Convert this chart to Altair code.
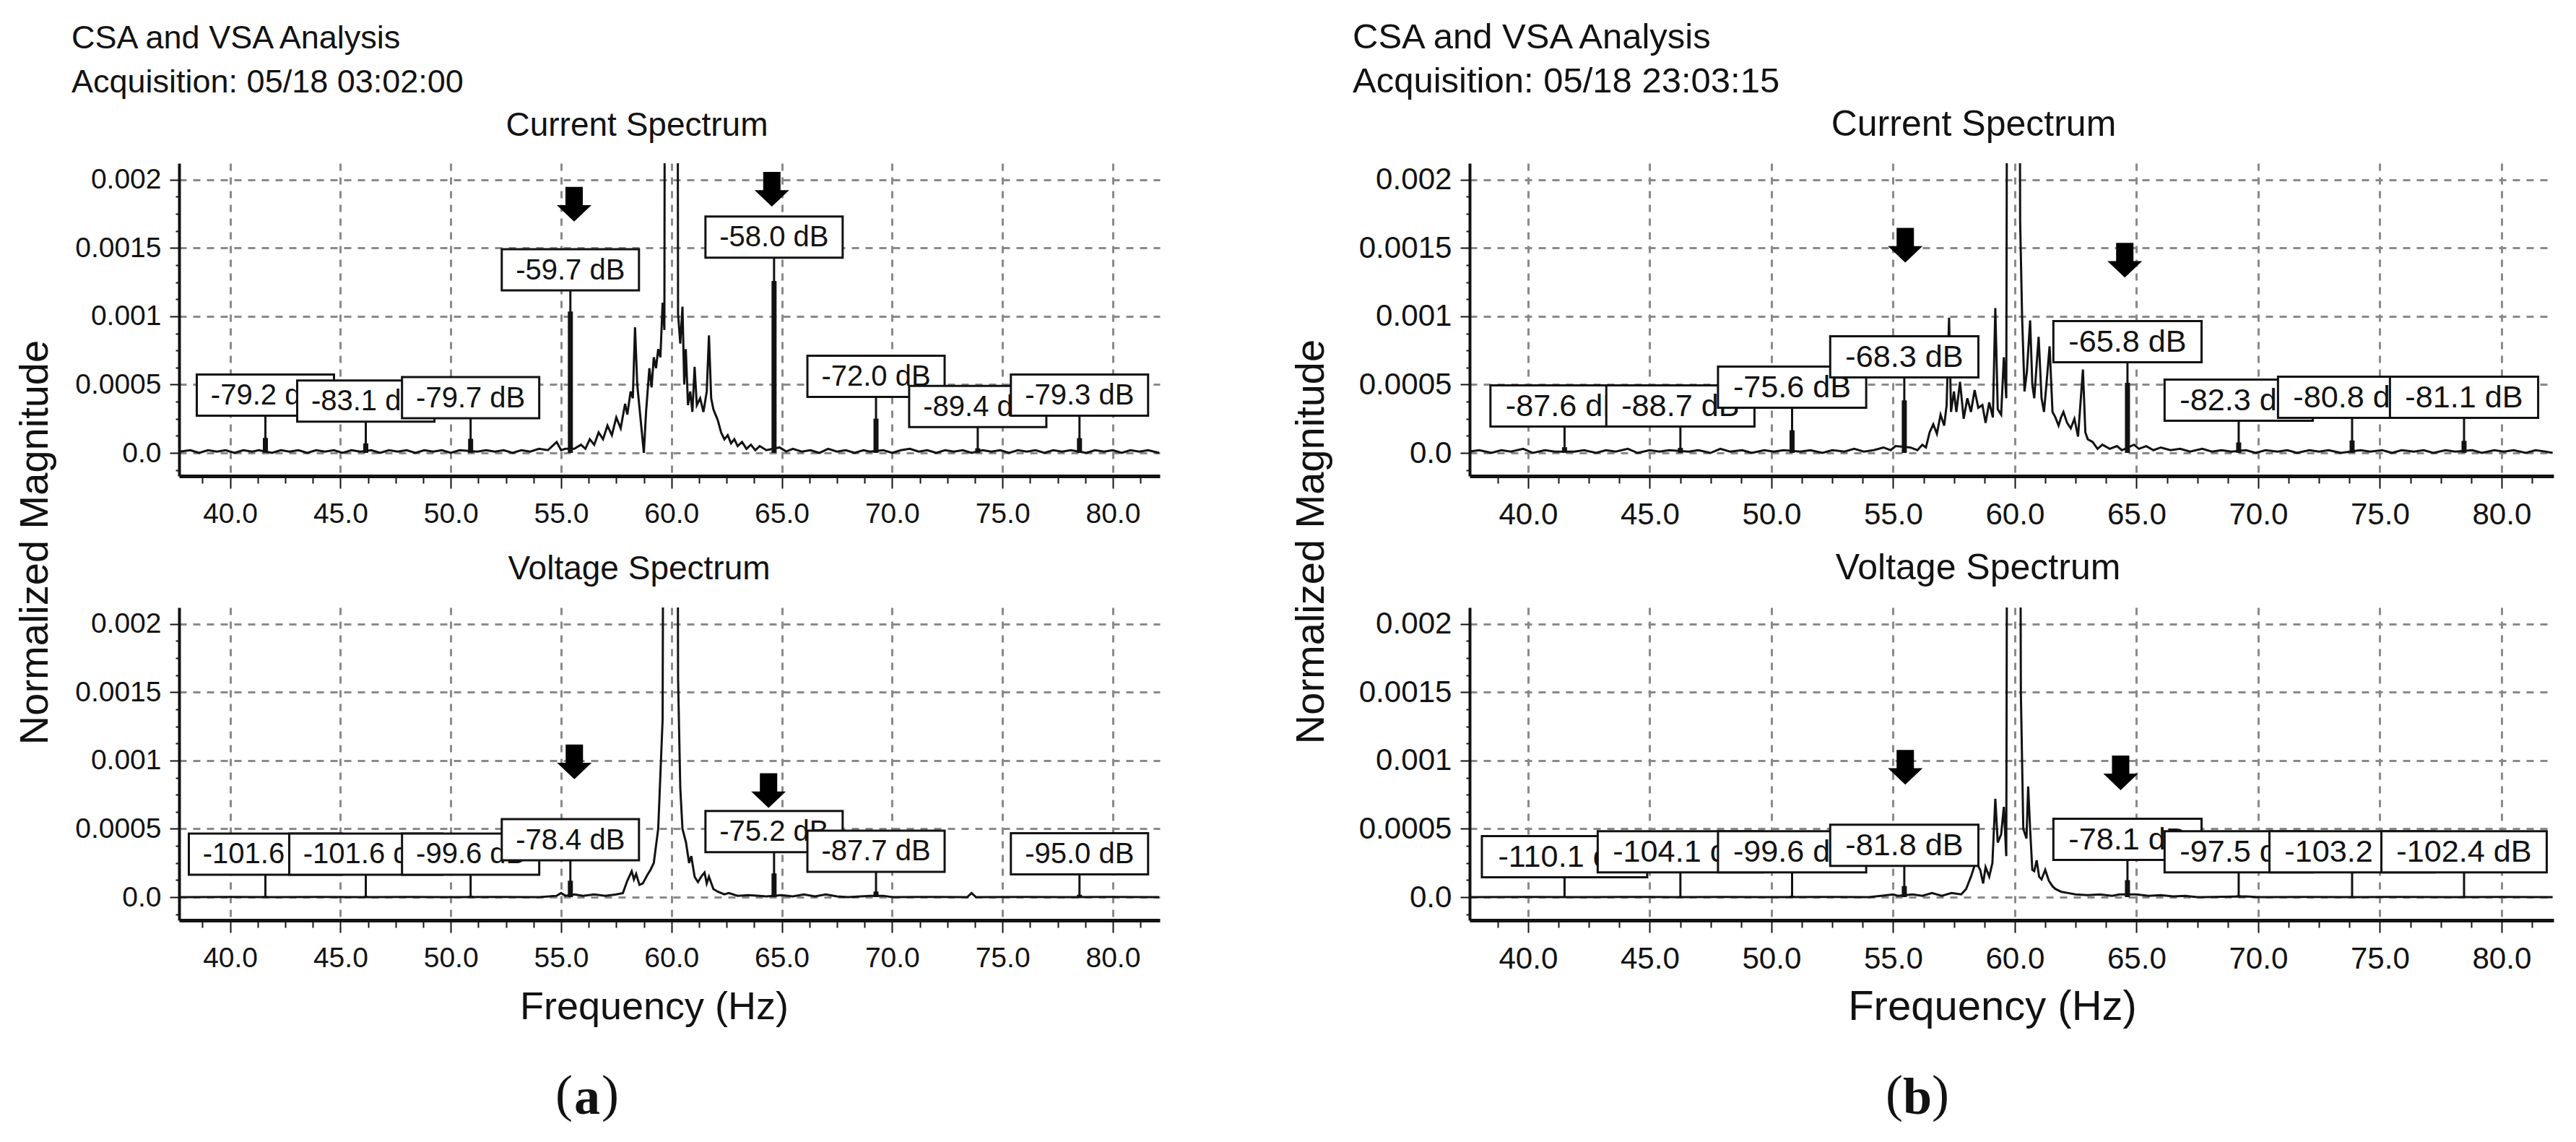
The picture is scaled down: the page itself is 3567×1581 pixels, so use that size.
import altair as alt
import pandas as pd

FONT = "Liberation Sans"
SERIF = "Liberation Serif"
INK = "#121212"
GRID = "#8a8a8a"

# ---------------- text ----------------
title_line1 = "CSA and VSA Analysis"
acq_a = "Acquisition: 05/18 03:02:00"
acq_b = "Acquisition: 05/18 23:03:15"
sub_current = "Current Spectrum"
sub_voltage = "Voltage Spectrum"
x_title = "Frequency (Hz)"
y_title = "Normalized Magnitude"
tag_a = "a"
tag_b = "b"

# ---------------- axes ----------------
x_ticks = [38.75, 40.0, 41.25, 42.5, 43.75, 45.0, 46.25, 47.5, 48.75, 50.0, 51.25, 52.5,
           53.75, 55.0, 56.25, 57.5, 58.75, 60.0, 61.25, 62.5, 63.75, 65.0, 66.25, 67.5,
           68.75, 70.0, 71.25, 72.5, 73.75, 75.0, 76.25, 77.5, 78.75, 80.0, 81.25]
x_major = [40.0, 45.0, 50.0, 55.0, 60.0, 65.0, 70.0, 75.0, 80.0]
x_major_labels = ["40.0", "45.0", "50.0", "55.0", "60.0", "65.0", "70.0", "75.0", "80.0"]
y_ticks = [-0.000125, 0.0, 0.000125, 0.00025, 0.000375, 0.0005, 0.000625, 0.00075, 0.000875,
           0.001, 0.001125, 0.00125, 0.001375, 0.0015, 0.001625, 0.00175, 0.001875, 0.002]
y_major = [0.0, 0.0005, 0.001, 0.0015, 0.002]
y_major_labels = ["0.0", "0.0005", "0.001", "0.0015", "0.002"]
y_domain = [-0.000169, 0.00212]
x_domain_a = [37.69, 82.13]
x_domain_b = [37.6, 82.14]

# ---------------- spectra (frequency Hz, magnitude x 1e-4) ----------------
a_cur_f = [37.7, 38.2, 38.6, 39.0, 39.4, 39.8, 40.2, 40.6, 41.0, 41.3, 41.9, 42.3, 42.7, 43.1, 43.5,
           43.9, 44.3, 44.7, 45.1, 45.5, 45.9, 46.4, 46.8, 47.2, 47.6, 48.0, 48.4, 48.8, 49.2, 49.6,
           50.0, 50.4, 51.2, 51.6, 52.0, 52.4, 52.8, 53.2, 53.6, 54.0, 54.4, 54.8, 55.0, 55.2, 55.6,
           55.9, 56.1, 56.3, 56.5, 56.7, 56.9, 57.1, 57.3, 57.5, 57.7, 57.9, 58.0, 58.15, 58.25, 58.35,
           58.45, 58.6, 58.75, 58.85, 59.0, 59.1, 59.2, 59.3, 59.4, 59.5, 59.6, 59.68, 59.76, 60.22,
           60.3, 60.4, 60.5, 60.58, 60.65, 60.75, 60.85, 60.95, 61.05, 61.15, 61.3, 61.45, 61.6, 61.7,
           61.8, 61.9, 62.0, 62.1, 62.25, 62.4, 62.55, 62.7, 62.85, 63.0, 63.2, 63.4, 63.6, 63.8, 64.0,
           64.3, 64.9, 65.2, 65.5, 65.9, 66.3, 66.7, 67.1, 67.5, 67.9, 68.3, 68.7, 69.0, 69.6, 70.0,
           70.4, 70.8, 71.2, 71.6, 72.0, 72.4, 72.8, 73.2, 73.6, 74.1, 74.5, 74.9, 75.3, 75.7, 76.1,
           76.5, 76.9, 77.3, 77.7, 78.1, 78.8, 79.2, 79.6, 80.0, 80.4, 80.8, 81.2, 81.6, 82.1]
a_cur_m = [0.1, 0.2, 0.0, 0.2, 0.1, 0.2, 0.0, 0.2, 0.1, 0.2, 0.0, 0.2, 0.1, 0.2, 0.0,
           0.2, 0.1, 0.2, 0.0, 0.2, 0.1, 0.2, 0.0, 0.2, 0.1, 0.2, 0.0, 0.2, 0.1, 0.2,
           0.0, 0.2, 0.1, 0.2, 0.1, 0.2, 0.0, 0.2, 0.1, 0.3, 0.2, 0.8, 0.2, 0.3, 0.3,
           0.6, 0.3, 1.0, 0.6, 1.5, 1.0, 2.0, 1.3, 2.6, 1.8, 3.6, 2.8, 4.5, 4.0, 9.2,
           5.0, 2.5, 0.0, 3.0, 6.2, 4.8, 7.0, 6.2, 7.6, 7.0, 11.0, 9.0, 100.0, 100.0,
           10.2, 8.0, 10.7, 5.0, 7.6, 3.5, 4.5, 3.0, 6.3, 3.5, 4.0, 3.0, 4.5, 8.6,
           4.0, 3.2, 2.8, 2.4, 1.5, 1.0, 1.3, 0.7, 1.0, 0.5, 0.8, 0.3, 0.6, 0.2, 0.5,
           0.2, 0.4, 0.1, 0.3, 0.1, 0.2, 0.0, 0.3, 0.1, 0.2, 0.0, 0.2, 0.1, 0.2, 0.0,
           0.2, 0.3, 0.1, 0.2, 0.0, 0.2, 0.1, 0.2, 0.0, 0.2, 0.1, 0.2, 0.0, 0.2, 0.1,
           0.2, 0.0, 0.2, 0.1, 0.2, 0.0, 0.2, 0.1, 0.2, 0.0, 0.2, 0.1, 0.2, 0.0]

a_vol_f = [37.7, 40.0, 42.0, 44.0, 46.0, 48.0, 50.0, 52.0, 54.0, 54.8, 55.0, 55.2, 55.6, 56.0,
           56.5, 57.0, 57.5, 57.8, 58.0, 58.2, 58.3, 58.4, 58.55, 58.7, 58.9, 59.05, 59.2, 59.4,
           59.6, 59.75, 60.2, 60.3, 60.4, 60.5, 60.66, 60.8, 60.9, 61.05, 61.2, 61.35, 61.5, 61.6,
           61.7, 61.9, 62.1, 62.4, 62.6, 63.0, 63.5, 64.0, 64.3, 65.0, 65.5, 66.0, 66.5, 67.0,
           67.5, 68.0, 69.0, 69.6, 70.0, 72.0, 73.4, 73.6, 73.8, 76.0, 78.0, 80.0, 82.1]
a_vol_m = [0.0, 0.02, 0.0, 0.02, 0.0, 0.02, 0.0, 0.02, 0.0, 0.1, 0.3, 0.1, 0.2, 0.1,
           0.2, 0.1, 0.2, 0.3, 1.2, 1.9, 1.3, 1.7, 0.9, 1.0, 1.6, 2.0, 2.5, 5.0,
           13.0, 100.0, 100.0, 16.0, 8.0, 5.0, 4.0, 2.5, 3.0, 1.5, 1.1, 1.5, 1.8, 1.0,
           1.5, 0.6, 0.4, 0.2, 0.3, 0.1, 0.15, 0.1, 0.05, 0.15, 0.05, 0.2, 0.05, 0.2,
           0.05, 0.0, 0.1, 0.1, 0.0, 0.02, 0.0, 0.3, 0.0, 0.02, 0.0, 0.02, 0.0]

b_cur_f = [37.6, 38.0, 38.5, 38.9, 39.3, 39.8, 40.2, 40.7, 41.1, 41.9, 42.3, 42.8, 43.2, 43.6,
           44.1, 44.5, 45.0, 45.4, 45.8, 46.6, 47.0, 47.5, 47.9, 48.3, 48.8, 49.2, 49.7, 50.1,
           50.5, 51.2, 51.6, 52.1, 52.5, 53.0, 53.4, 53.8, 54.2, 54.6, 54.9, 55.1, 55.7, 56.0,
           56.2, 56.35, 56.5, 56.65, 56.8, 56.95, 57.1, 57.2, 57.3, 57.38, 57.5, 57.6, 57.75, 57.9,
           58.05, 58.2, 58.35, 58.5, 58.67, 58.8, 58.95, 59.1, 59.2, 59.3, 59.44, 59.55, 59.65,
           59.77, 60.12, 60.22, 60.3, 60.4, 60.5, 60.63, 60.72, 60.8, 60.9, 60.98, 61.1, 61.2,
           61.3, 61.43, 61.55, 61.67, 61.8, 61.9, 62.0, 62.15, 62.3, 62.45, 62.6, 62.8, 62.9,
           63.0, 63.2, 63.4, 63.6, 63.9, 64.2, 64.4, 64.9, 65.1, 65.4, 65.7, 66.0, 66.4, 66.8,
           67.2, 67.7, 68.1, 68.5, 68.9, 69.5, 69.9, 70.3, 70.8, 71.2, 71.6, 72.1, 72.5, 72.9,
           73.4, 74.2, 74.6, 75.1, 75.5, 75.9, 76.4, 76.8, 77.2, 77.7, 78.1, 78.8, 79.2, 79.7,
           80.1, 80.5, 81.0, 81.4, 81.8, 82.1]
b_cur_m = [0.1, 0.2, 0.0, 0.2, 0.1, 0.3, 0.0, 0.2, 0.1, 0.1, 0.2, 0.0, 0.2, 0.1,
           0.3, 0.0, 0.2, 0.1, 0.2, 0.1, 0.2, 0.0, 0.3, 0.1, 0.2, 0.0, 0.2, 0.1,
           0.2, 0.1, 0.2, 0.0, 0.2, 0.1, 0.3, 0.1, 0.2, 0.4, 0.2, 0.5, 0.4, 0.2,
           0.6, 0.4, 1.5, 2.1, 1.4, 2.8, 2.0, 3.5, 9.9, 3.0, 4.5, 3.0, 5.2, 2.5,
           4.0, 3.0, 4.6, 3.3, 3.5, 2.2, 3.7, 2.6, 10.6, 3.2, 2.8, 7.0, 4.0,
           100.0, 100.0, 17.0, 10.0, 4.5, 6.0, 9.7, 5.0, 4.0, 6.5, 8.5, 4.0, 3.0,
           5.0, 7.8, 3.0, 2.6, 2.0, 2.6, 3.0, 2.2, 1.8, 2.5, 1.2, 6.1, 1.5,
           1.0, 0.8, 0.3, 0.6, 0.3, 0.5, 0.2, 0.6, 0.3, 0.5, 0.2, 0.4, 0.2, 0.3,
           0.1, 0.3, 0.1, 0.2, 0.1, 0.2, 0.0, 0.2, 0.1, 0.2, 0.0, 0.2, 0.1, 0.2,
           0.0, 0.2, 0.1, 0.2, 0.0, 0.2, 0.1, 0.2, 0.0, 0.2, 0.1, 0.2, 0.0, 0.2,
           0.1, 0.2, 0.0, 0.2, 0.1, 0.0]

b_vol_f = [37.6, 40.0, 42.0, 44.0, 46.0, 48.0, 50.0, 52.0, 54.0, 54.5, 55.0, 55.2, 55.8, 56.2,
           56.6, 57.0, 57.4, 57.8, 58.0, 58.2, 58.4, 58.58, 58.7, 58.8, 58.95, 59.08, 59.2, 59.3,
           59.44, 59.55, 59.65, 59.77, 60.12, 60.25, 60.35, 60.48, 60.55, 60.63, 60.72, 60.8, 60.9,
           61.0, 61.1, 61.25, 61.4, 61.55, 61.67, 61.9, 62.2, 62.5, 63.0, 63.5, 64.0, 64.3, 65.0,
           65.5, 66.0, 66.5, 67.0, 67.5, 69.5, 70.0, 72.0, 74.0, 76.0, 78.0, 80.0, 82.1]
b_vol_m = [0.0, 0.02, 0.0, 0.02, 0.0, 0.02, 0.0, 0.02, 0.0, 0.1, 0.2, 0.1, 0.2, 0.1,
           0.3, 0.1, 0.3, 0.2, 0.6, 1.5, 2.6, 2.0, 1.0, 2.2, 1.5, 2.5, 7.2, 4.0,
           4.6, 6.6, 3.0, 100.0, 100.0, 14.9, 5.0, 4.3, 8.1, 5.0, 2.0, 1.9, 2.7,
           1.5, 1.3, 2.0, 1.2, 0.8, 0.6, 0.4, 0.3, 0.2, 0.15, 0.2, 0.1, 0.2, 0.2,
           0.1, 0.15, 0.05, 0.1, 0.0, 0.05, 0.0, 0.02, 0.0, 0.02, 0.0, 0.02, 0.0]

# ---------------- marked harmonics (Hz, dB) ----------------
a_cur_hf = [41.6, 46.15, 50.9, 55.42, 64.65, 69.27, 73.88, 78.49]
a_cur_db = [-79.2, -83.1, -79.7, -59.7, -58.0, -72.0, -89.4, -79.3]
a_vol_hf = [41.6, 46.15, 50.9, 55.42, 64.65, 69.27, 78.49]
a_vol_db = [-101.6, -101.6, -99.6, -78.4, -75.2, -87.7, -95.0]
b_cur_hf = [41.5, 46.26, 50.85, 55.46, 64.63, 69.2, 73.86, 78.46]
b_cur_db = [-87.6, -88.7, -75.6, -68.3, -65.8, -82.3, -80.8, -81.1]
b_vol_hf = [41.5, 46.26, 50.85, 55.46, 64.63, 69.2, 73.86, 78.46]
b_vol_db = [-110.1, -104.1, -99.6, -81.8, -78.1, -97.5, -103.2, -102.4]

# annotation placement (label box centres, arrow centres) in data units
a_cur_box = [0.000423, 0.00038, 0.000404, 0.00134, 0.00158, 0.00056, 0.00034, 0.000423]
a_vol_box = [0.000315, 0.000315, 0.000315, 0.00042, 0.00048, 0.000336, 0.000317]
b_cur_box = [0.000344, 0.000344, 0.000481, 0.000703, 0.000814, 0.000386, 0.000407, 0.000407]
b_vol_box = [0.000296, 0.000332, 0.000332, 0.00038, 0.000423, 0.000332, 0.000332, 0.000332]
a_cur_arrow_x = [55.59, 64.55]
a_cur_arrow_y = [0.00182, 0.00193]
a_vol_arrow_x = [55.6, 64.4]
a_vol_arrow_y = [0.00099, 0.00078]
b_cur_arrow_x = [55.5, 64.52]
b_cur_arrow_y = [0.00152, 0.00141]
b_vol_arrow_x = [55.5, 64.35]
b_vol_arrow_y = [0.00095, 0.00091]

ARROW = "M-0.5,-1L0.5,-1L0.5,0.05L1,0.05L0,1L-1,0.05L-0.5,0.05Z"
X_MAJOR_TEST = "abs(datum.value/5 - round(datum.value/5)) < 0.001"
Y_MAJOR_TEST = "abs(datum.value*2000 - round(datum.value*2000)) < 0.001"


def label_expr(vals, labs, tol):
    e = "''"
    for v, l in zip(reversed(vals), reversed(labs)):
        e = f"abs(datum.value - ({v})) < {tol} ? '{l}' : {e}"
    return e


def cond(test, yes, no):
    return {"condition": {"test": test, "value": yes}, "value": no}


def text_layer(txt, x, y, size, align="left", baseline="alphabetic", angle=0,
               font=FONT, weight="normal"):
    return alt.Chart(pd.DataFrame({"t": [txt]})).mark_text(
        font=font, fontSize=size, align=align, baseline=baseline, angle=angle,
        color=INK, fontWeight=weight,
    ).encode(x=alt.value(x), y=alt.value(y), text="t:N")


def subplot(W, H, xdom, k, tf, tm, hf, hdb, boxy, ax, ay, extra):
    xs = alt.Scale(domain=xdom, nice=False, zero=False)
    ys = alt.Scale(domain=y_domain, nice=False, zero=False)
    xaxis = alt.Axis(
        values=x_ticks, labelExpr=label_expr(x_major, x_major_labels, 0.01),
        title=None, tickSize=cond(X_MAJOR_TEST, 17, 10), tickWidth=2, tickColor=INK,
        domainColor=INK, domainWidth=5, labelFont=FONT, labelFontSize=39 * k,
        labelColor=INK, labelPadding=16, labelFlush=False, labelOverlap=False,
        grid=True, gridColor=GRID, gridDash=[10, 9], gridWidth=3,
        gridOpacity=cond(X_MAJOR_TEST, 1, 0),
    )
    yaxis = alt.Axis(
        values=y_ticks, labelExpr=label_expr(y_major, y_major_labels, 1e-6),
        title=None, tickSize=cond(Y_MAJOR_TEST, 13, 5), tickWidth=2, tickColor=INK,
        domainColor=INK, domainWidth=4, labelFont=FONT, labelFontSize=39 * k,
        labelColor=INK, labelPadding=12, labelFlush=False, labelOverlap=False,
        grid=True, gridColor=GRID, gridDash=[10, 9], gridWidth=3,
        gridOpacity=cond(Y_MAJOR_TEST, 1, 0),
    )

    def X(f):
        return alt.X(f"{f}:Q", scale=xs, axis=xaxis)

    def Y(f):
        return alt.Y(f"{f}:Q", scale=ys, axis=yaxis)

    tr = pd.DataFrame({"f": tf, "m": [v * 1e-4 for v in tm]})
    line = alt.Chart(tr).mark_line(color=INK, strokeWidth=3, clip=True).encode(x=X("f"), y=Y("m"))

    labs = pd.DataFrame({"f": hf, "db": hdb, "by": boxy})
    leaders = alt.Chart(labs).transform_calculate(zero="0").mark_rule(
        color=INK, strokeWidth=3).encode(x=X("f"), y=Y("zero"), y2=alt.Y2("by"))
    spikes = alt.Chart(labs).transform_calculate(zero="0", m="pow(10, datum.db/20)").mark_rule(
        color=INK, strokeWidth=7).encode(x=X("f"), y=Y("zero"), y2=alt.Y2("m"))
    layers = [line, leaders, spikes]

    for i in range(len(hf)):
        t = f"{hdb[i]:.1f} dB"
        hw = (95 + 11 * (len(t) - 8)) * k
        hh = 28.5
        r = hh / hw
        path = f"M-1,{-r:.4f}L1,{-r:.4f}L1,{r:.4f}L-1,{r:.4f}Z"
        row = pd.DataFrame({"f": [hf[i]], "by": [boxy[i]], "t": [t]})
        box = alt.Chart(row).mark_point(
            shape=path, size=(2 * hw) ** 2, filled=True, fill="white", stroke=INK,
            strokeWidth=3, opacity=1, fillOpacity=1, strokeOpacity=1,
        ).encode(x=X("f"), y=Y("by"))
        txt = alt.Chart(row).mark_text(
            font=FONT, fontSize=40 * k, color=INK, align="center", baseline="middle", dy=1,
        ).encode(x=X("f"), y=Y("by"), text="t:N")
        layers += [box, txt]

    arr = pd.DataFrame({"f": ax, "y": ay})
    arrows = alt.Chart(arr).mark_point(
        shape=ARROW, size=48 * 48, filled=True, color="black", opacity=1,
    ).encode(x=X("f"), y=Y("y"))
    layers.append(arrows)
    layers += extra
    return alt.layer(*layers).properties(width=W, height=H)


def tag_layers(tag, cx, cy):
    return [
        text_layer("(", cx - 20, cy, 72, align="right", baseline="middle", font=SERIF),
        text_layer(tag, cx, cy + 4, 72, align="center", baseline="middle", font=SERIF, weight="bold"),
        text_layer(")", cx + 20, cy, 72, align="left", baseline="middle", font=SERIF),
    ]


H = 433
WA, WB = 1358, 1501
KA, KB = 1.0, 1.08

top_a = subplot(WA, H, x_domain_a, KA, a_cur_f, a_cur_m, a_cur_hf, a_cur_db, a_cur_box,
                a_cur_arrow_x, a_cur_arrow_y, [
                    text_layer(title_line1, -149, -159, 45),
                    text_layer(acq_a, -149, -98, 45),
                    text_layer(sub_current, 634, -38, 46, align="center"),
                    text_layer(y_title, -199, 525, 56, align="center", baseline="middle", angle=270),
                ])
bot_a = subplot(WA, H, x_domain_a, KA, a_vol_f, a_vol_m, a_vol_hf, a_vol_db, a_vol_box,
                a_vol_arrow_x, a_vol_arrow_y, [
                    text_layer(sub_voltage, 637, -39, 46, align="center"),
                    text_layer(x_title, 658, 554, 54, align="center", baseline="middle"),
                ] + tag_layers(tag_a, 565, 675))
top_b = subplot(WB, H, x_domain_b, KB, b_cur_f, b_cur_m, b_cur_hf, b_cur_db, b_cur_box,
                b_cur_arrow_x, b_cur_arrow_y, [
                    text_layer(title_line1, -162, -159, 49),
                    text_layer(acq_b, -162, -98, 49),
                    text_layer(sub_current, 698, -38, 50, align="center"),
                    text_layer(y_title, -219, 524, 56, align="center", baseline="middle", angle=270),
                ])
bot_b = subplot(WB, H, x_domain_b, KB, b_vol_f, b_vol_m, b_vol_hf, b_vol_db, b_vol_box,
                b_vol_arrow_x, b_vol_arrow_y, [
                    text_layer(sub_voltage, 704, -39, 50, align="center"),
                    text_layer(x_title, 724, 554, 58, align="center", baseline="middle"),
                ] + tag_layers(tag_b, 620, 675))

chart = alt.concat(
    top_a, top_b, bot_a, bot_b, columns=2,
    spacing={"row": 182, "column": 429}, bounds="flush",
).properties(
    padding={"left": 12, "top": 19, "right": 5, "bottom": 5}, background="white",
).configure_view(stroke="transparent")

chart.save("out.html", embed_options={"renderer": "svg", "actions": False})
